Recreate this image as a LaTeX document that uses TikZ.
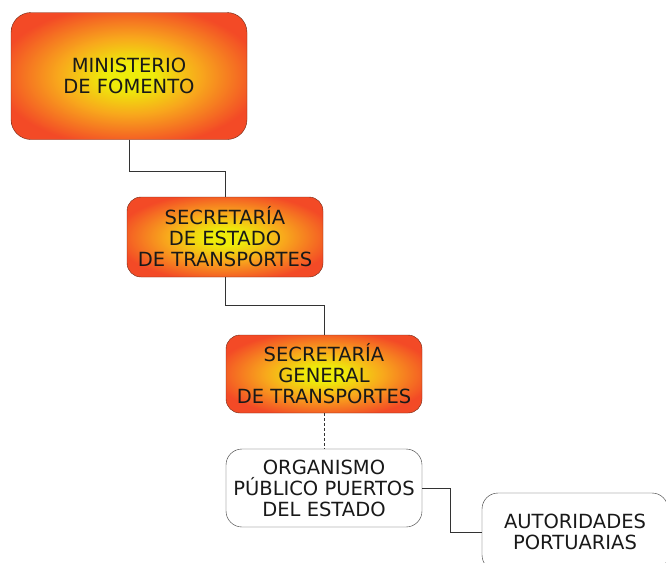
\documentclass[tikz,border=0pt]{standalone}
\usepackage{fontspec}
\setmainfont{DejaVu Sans}
\usetikzlibrary{positioning}
\definecolor{boxyellow}{RGB}{238,236,10}
\definecolor{boxorange}{RGB}{248,168,28}
\definecolor{boxred}{RGB}{243,74,38}
\definecolor{boxedge}{RGB}{110,40,20}
\pgfdeclareradialshading{fomento}{\pgfpoint{0bp}{0bp}}{color(0bp)=(boxyellow); color(5bp)=(boxyellow); color(15bp)=(boxorange); color(28bp)=(boxred); color(50bp)=(boxred)}

\begin{document}
\begin{tikzpicture}
[x=1pt,y=-1pt,
 hot/.style={rounded corners=20pt,draw=boxedge,thin,shading=fomento,
    align=center,text=black!90,inner sep=0pt,
    font=\fontsize{19.5}{21}\selectfont},
 plain/.style={rounded corners=16pt,draw=black!80,thin,fill=white,
    align=center,text=black!90,inner sep=0pt,
    font=\fontsize{19.5}{21}\selectfont},
 link/.style={draw=black!80,thin}]
\clip (0,0) rectangle (666,562);

\node[hot,minimum width=236pt,minimum height=127pt] (min) at (129,76)
{MINISTERIO\\DE FOMENTO};
\node[hot,rounded corners=14pt,minimum width=196pt,minimum height=80pt] (sec) at (225,237)
{SECRETARÍA\\DE ESTADO\\DE TRANSPORTES};
\node[hot,rounded corners=14pt,minimum width=196pt,minimum height=78pt] (sg) at (324,374)
{SECRETARÍA\\GENERAL\\DE TRANSPORTES};
\node[plain,minimum width=196pt,minimum height=78pt] (opp) at (324,488)
{ORGANISMO\\PÚBLICO PUERTOS\\DEL ESTADO};
\node[plain,minimum width=186pt,minimum height=78pt] (ap) at (575,532)
{AUTORIDADES\\PORTUARIAS};

\draw [link] (min.south) -- ++(0,31) -| (sec.north);
\draw [link] (sec.south) -- ++(0,28) -| (sg.north);
\draw [link,densely dashed] (sg.south) -- (opp.north);
\draw [link] (opp.east) -- ++(28,0) |- (ap.west);
\end{tikzpicture}
\end{document}
